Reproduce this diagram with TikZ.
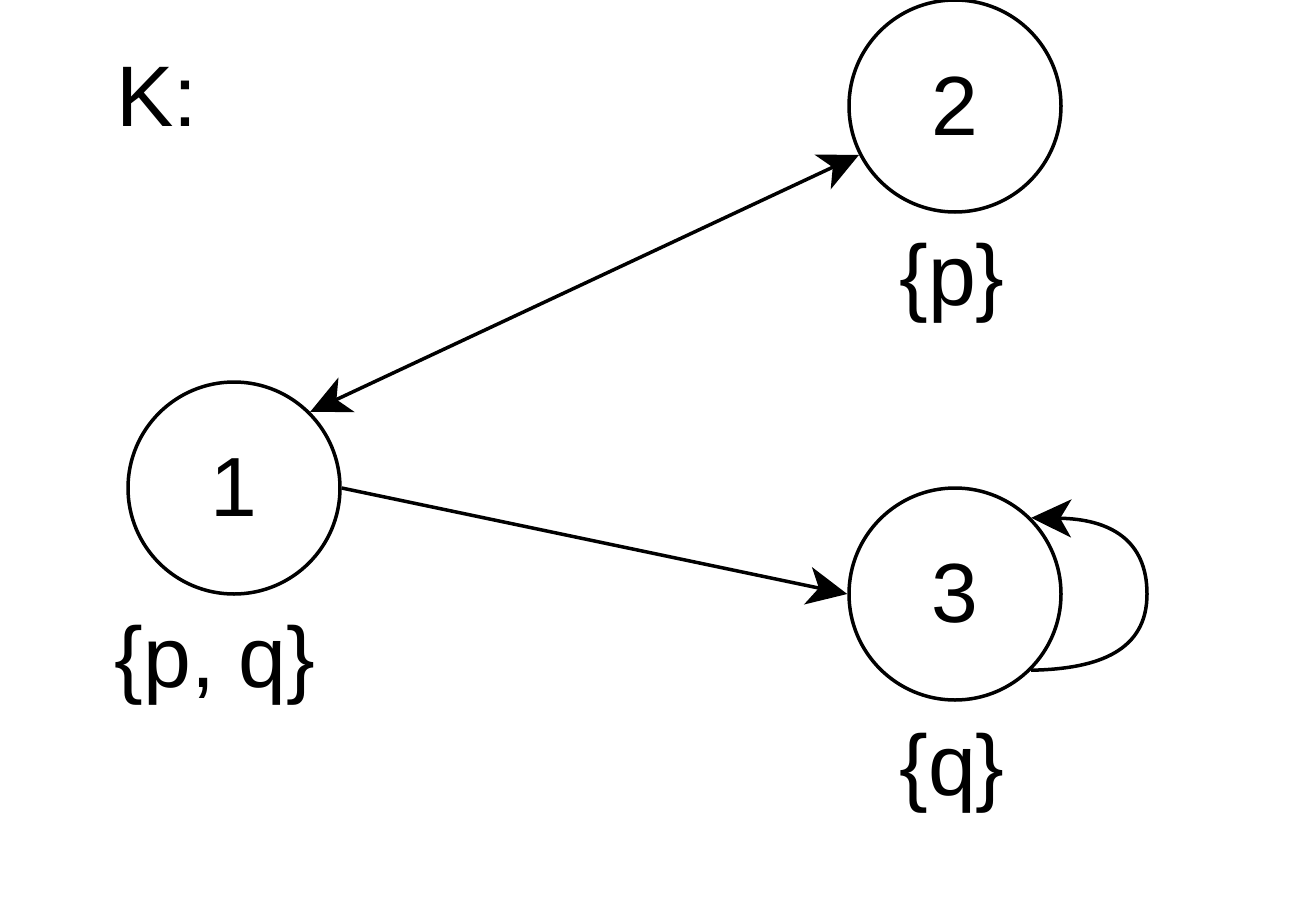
\documentclass[tikz,border=0pt]{standalone}
\usepackage{fontspec}
\setmainfont{Liberation Sans}
\usetikzlibrary{arrows.meta}
\begin{document}
\begin{tikzpicture}[x=1pt,y=-1pt,
  state/.style={draw,circle,line width=3.5pt,minimum size=212pt,inner sep=0pt,font=\fontsize{84}{84}\selectfont},
  lbl/.style={inner sep=0pt,font=\fontsize{86}{86}\selectfont},
  edge/.style={line width=3.5pt,-{Stealth[length=40pt,width=38pt,inset=11pt]}},
  bedge/.style={line width=3.5pt,{Stealth[length=40pt,width=38pt,inset=11pt]}-{Stealth[length=40pt,width=38pt,inset=11pt]}}]
\useasboundingbox (0,0) rectangle (1304,902);
\node[state] (n1) at (234,488) {1};
\node[state] (n2) at (955,106) {2};
\node[state] (n3) at (955,594) {3};
\node[lbl] (k) at (157,97) {K:};
\node[lbl] (l2) at (952,283) {\{p\}};
\node[lbl] (l1) at (215,665) {\{p, q\}};
\node[lbl] (l3) at (952,773) {\{q\}};
\draw[bedge] (n1.45) -- (n2.207);
\draw[edge] (n1.east) -- (n3.west);
\draw[edge] (n3.-45) .. controls (1100,669) and (1147,650) .. (1147,594) .. controls (1147,540) and (1110,519) .. (n3.45);
\end{tikzpicture}
\end{document}
